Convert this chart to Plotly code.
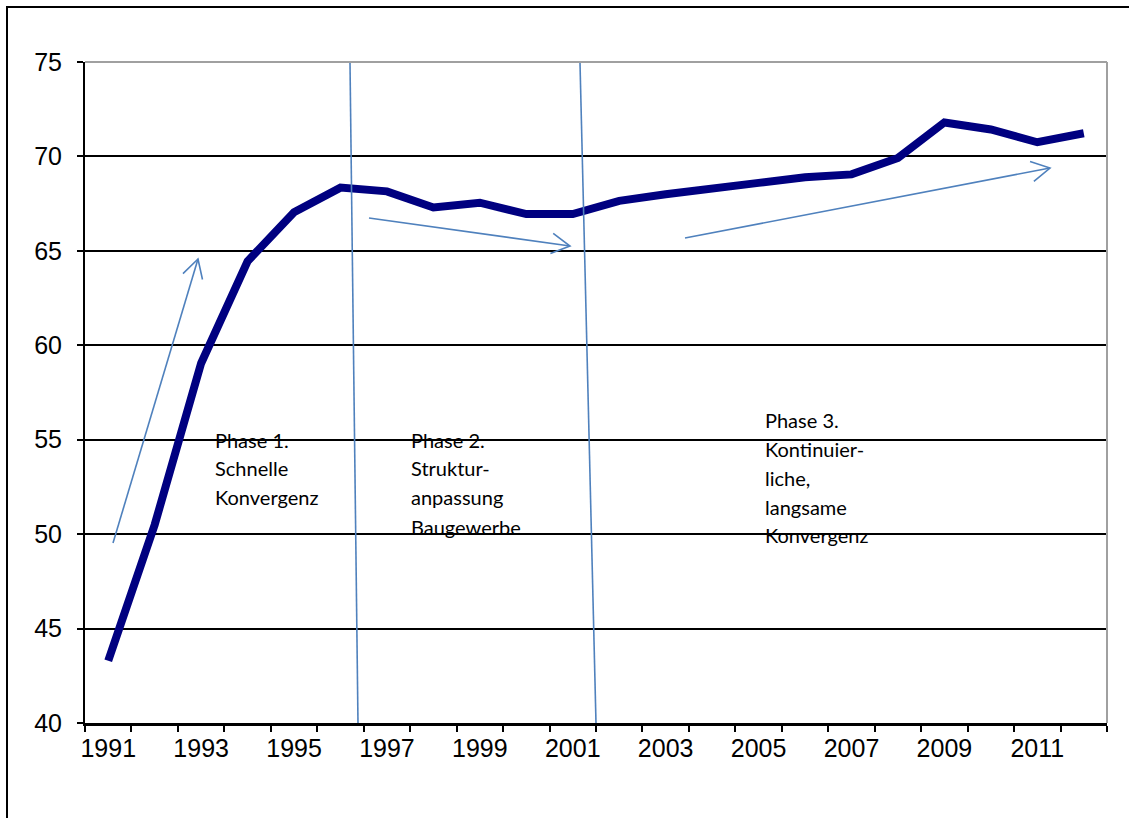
import math
import plotly.graph_objects as go

years = [str(y) for y in range(1991, 2013)]
values = [43.3, 50.5, 59.05, 64.45, 67.05, 68.35, 68.15, 67.3, 67.55, 66.95,
          66.95, 67.65, 68.0, 68.35, 68.6, 68.9, 69.05, 69.92, 71.8, 71.43,
          70.75, 71.23]
tick_labels = [y if (int(y) - 1991) % 2 == 0 else "" for y in years]
y_ticks = [40, 45, 50, 55, 60, 65, 70, 75]

phase_texts = [
    ["Phase 1.", "Schnelle", "Konvergenz"],
    ["Phase 2.", "Struktur-", "anpassung", "Baugewerbe"],
    ["Phase 3.", "Kontinuier-", "liche,", "langsame", "Konvergenz"],
]

W, H = 1129, 818
L, R, T, B = 85, 22, 62, 95
PW, PH = W - L - R, H - T - B
YMIN, YMAX = 40, 75
N = len(years)


def px_to_x(px):
    return (px - L) / (PW / N) - 0.5


def py_to_y(py):
    return YMIN + (T + PH - py) / (PH / (YMAX - YMIN))


def ppx(px):
    return (px - L) / PW


def ppy(py):
    return (T + PH - py) / PH


fig = go.Figure()
fig.add_trace(go.Scatter(
    x=years, y=values, mode="lines",
    line=dict(color="#000080", width=8),
    hoverinfo="skip", showlegend=False,
))

BLUE = "#4f81bd"
shapes = []

# white boxes behind phase text (between gridlines and traces)
for (x0, y0, x1, y1) in [(193, 420, 344, 515), (388, 425, 539, 548), (743, 400, 893, 552)]:
    shapes.append(dict(type="rect", xref="paper", yref="paper",
                       x0=ppx(x0), x1=ppx(x1), y0=ppy(y1), y1=ppy(y0),
                       fillcolor="white", line=dict(width=0), layer="between"))

# phase separator lines
for (a, b) in [((350, 63), (358, 723)), ((580, 63), (596, 723))]:
    shapes.append(dict(type="line", xref="x", yref="y",
                       x0=px_to_x(a[0]), y0=py_to_y(a[1]),
                       x1=px_to_x(b[0]), y1=py_to_y(b[1]),
                       line=dict(color=BLUE, width=1.6), layer="above"))

# trend arrows with open chevron heads
arrows = [((113, 543), (198, 259)), ((369, 218), (570, 246)), ((685, 238), (1050, 168))]
for (tail, head) in arrows:
    shapes.append(dict(type="line", xref="x", yref="y",
                       x0=px_to_x(tail[0]), y0=py_to_y(tail[1]),
                       x1=px_to_x(head[0]), y1=py_to_y(head[1]),
                       line=dict(color=BLUE, width=1.6), layer="above"))
    dx, dy = tail[0] - head[0], tail[1] - head[1]
    ang = math.atan2(dy, dx)
    legs = []
    for s in (-1, 1):
        a = ang + s * math.radians(29)
        legs.append((head[0] + 21 * math.cos(a), head[1] + 21 * math.sin(a)))
    path = "M {},{} L {},{} L {},{}".format(
        ppx(legs[0][0]), ppy(legs[0][1]), ppx(head[0]), ppy(head[1]),
        ppx(legs[1][0]), ppy(legs[1][1]))
    shapes.append(dict(type="path", xref="paper", yref="paper", path=path,
                       line=dict(color=BLUE, width=1.6), layer="above"))

# plot area border (top and right gray)
shapes.append(dict(type="line", xref="paper", yref="paper", x0=0, x1=1, y0=1, y1=1,
                   line=dict(color="#a0a0a0", width=2), layer="above"))
shapes.append(dict(type="line", xref="paper", yref="paper", x0=1, x1=1, y0=0, y1=1,
                   line=dict(color="#a0a0a0", width=2), layer="above"))

# outer frame (left and top)
shapes.append(dict(type="line", xref="paper", yref="paper",
                   x0=ppx(7), x1=ppx(7), y0=ppy(6), y1=ppy(830),
                   line=dict(color="black", width=2), layer="above"))
shapes.append(dict(type="line", xref="paper", yref="paper",
                   x0=ppx(6), x1=ppx(1140), y0=ppy(7), y1=ppy(7),
                   line=dict(color="black", width=2), layer="above"))

annotations = []
text_pos = [(213, [440, 468, 497]), (409, [440, 468, 497, 527]),
            (763, [420, 449, 478, 507, 535])]
for lines, (tx, tys) in zip(phase_texts, text_pos):
    for line, ty in zip(lines, tys):
        annotations.append(dict(
            xref="paper", yref="paper", x=ppx(tx), y=ppy(ty),
            xanchor="left", yanchor="middle", text=line, showarrow=False,
            font=dict(family="Lato, Open Sans, sans-serif", size=20, color="black"),
        ))

TICKFONT = dict(family="Liberation Sans, Arial, sans-serif", size=25, color="black")

fig.update_layout(
    width=W, height=H,
    margin=dict(l=L, r=R, t=T, b=B, pad=0),
    paper_bgcolor="white", plot_bgcolor="white",
    shapes=shapes, annotations=annotations,
    font=dict(family="Liberation Sans, Arial, sans-serif", size=23, color="black"),
    xaxis=dict(
        type="category", range=[-0.5, N - 0.5],
        tickmode="array", tickvals=years, ticktext=tick_labels,
        tickson="boundaries", ticks="outside", ticklen=6, tickwidth=2,
        tickcolor="black", showgrid=False, showline=True, linecolor="black",
        linewidth=2.5, zeroline=False, tickangle=0,
        tickfont=TICKFONT, ticklabelstandoff=1,
    ),
    yaxis=dict(
        range=[YMIN, YMAX], tickmode="array", tickvals=y_ticks,
        ticks="outside", ticklen=6, tickwidth=2, tickcolor="black",
        showgrid=True, gridcolor="black", gridwidth=1.6,
        showline=True, linecolor="black", linewidth=2, zeroline=False,
        tickfont=TICKFONT, ticklabelstandoff=10,
    ),
)

fig.write_html(
    "out.html",
    config={"displayModeBar": False},
    post_script="document.body.style.margin='0';document.body.style.padding='0';",
)
